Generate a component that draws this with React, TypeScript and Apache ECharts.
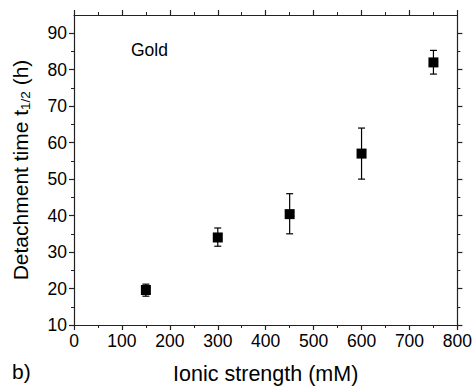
import React, { useEffect, useRef } from "react";
import * as echarts from "echarts";

const ionicStrength = [150, 300, 450, 600, 750];
const detachTime = [19.6, 34, 40.4, 57, 82];
const errLow = [17.9, 31.6, 35, 50, 78.8];
const errHigh = [21.2, 36.6, 46, 64, 85.3];
const yTickValues = [10, 20, 30, 40, 50, 60, 70, 80, 90];

const FONT = "Liberation Sans, Arial, sans-serif";
const AX = "#222";

export default function App() {
  const ref = useRef<HTMLDivElement>(null);
  useEffect(() => {
    const chart = echarts.init(ref.current!, null, { renderer: "svg" });
    const scatterData = ionicStrength.map((x, i) => [x, detachTime[i]]);
    const errData = ionicStrength.map((x, i) => [x, errLow[i], errHigh[i]]);
    const axisLine = { show: true, onZero: false, lineStyle: { color: AX, width: 1.2 } };
    const tick = { show: true, length: 5, lineStyle: { color: AX, width: 1.2 } };
    const minor = { show: true, splitNumber: 2, length: 3, lineStyle: { color: AX, width: 1 } };
    chart.setOption({
      animation: false,
      backgroundColor: "#fff",
      textStyle: { fontFamily: FONT },
      grid: { left: 74, right: 15, top: 15, bottom: 67 },
      xAxis: [
        {
          type: "value", min: 0, max: 800, interval: 100, position: "bottom",
          axisLine, axisTick: tick, minorTick: minor, splitLine: { show: false },
          axisLabel: { color: "#000", fontSize: 17.5, margin: 7, fontFamily: FONT },
          name: "Ionic strength (mM)", nameLocation: "middle", nameGap: 38,
          nameTextStyle: { color: "#000", fontSize: 21.5, fontFamily: FONT },
        },
        {
          type: "value", min: 0, max: 800, interval: 100, position: "top",
          axisLine, axisTick: tick, minorTick: minor, splitLine: { show: false },
          axisLabel: { show: false },
        },
      ],
      yAxis: [
        {
          type: "value", min: 10, max: 95, interval: 10, position: "left",
          axisLine, axisTick: { ...tick, customValues: yTickValues }, minorTick: minor,
          splitLine: { show: false },
          axisLabel: { color: "#000", fontSize: 17.5, margin: 7, fontFamily: FONT, customValues: yTickValues },
          name: "Detachment time t{sub|1/2} (h)", nameLocation: "middle", nameGap: 42,
          nameTextStyle: {
            color: "#000", fontSize: 21, fontFamily: FONT,
            rich: { sub: { fontSize: 13.5, fontFamily: FONT, color: "#000", verticalAlign: "bottom", padding: [10, 0, 0, 0] } },
          },
        },
        {
          type: "value", min: 10, max: 95, interval: 10, position: "right",
          axisLine, axisTick: { ...tick, customValues: yTickValues }, minorTick: minor,
          splitLine: { show: false },
          axisLabel: { show: false },
        },
      ],
      series: [
        {
          type: "custom",
          xAxisIndex: 0, yAxisIndex: 0,
          data: errData,
          z: 2,
          renderItem: (params: any, api: any) => {
            const x = api.value(0);
            const lo = api.coord([x, api.value(1)]);
            const hi = api.coord([x, api.value(2)]);
            const hw = 3.5;
            const style = { stroke: "#000", lineWidth: 1.2 };
            return {
              type: "group",
              children: [
                { type: "line", shape: { x1: lo[0], y1: lo[1], x2: hi[0], y2: hi[1] }, style },
                { type: "line", shape: { x1: lo[0] - hw, y1: lo[1], x2: lo[0] + hw, y2: lo[1] }, style },
                { type: "line", shape: { x1: hi[0] - hw, y1: hi[1], x2: hi[0] + hw, y2: hi[1] }, style },
              ],
            };
          },
        },
        {
          type: "scatter",
          xAxisIndex: 0, yAxisIndex: 0,
          data: scatterData,
          symbol: "rect",
          symbolSize: 10,
          itemStyle: { color: "#000", opacity: 1 },
          z: 3,
        },
      ],
      graphic: [
        { type: "text", left: 131, top: 41, style: { text: "Gold", fontSize: 17.5, fontFamily: FONT, fill: "#000" } },
        { type: "text", left: 12, top: 361, style: { text: "b)", fontSize: 21, fontFamily: FONT, fill: "#000" } },
      ],
    });
    return () => chart.dispose();
  }, []);
  return <div ref={ref} style={{ width: 475, height: 392, position: "absolute", left: 0, top: 0 }} />;
}
